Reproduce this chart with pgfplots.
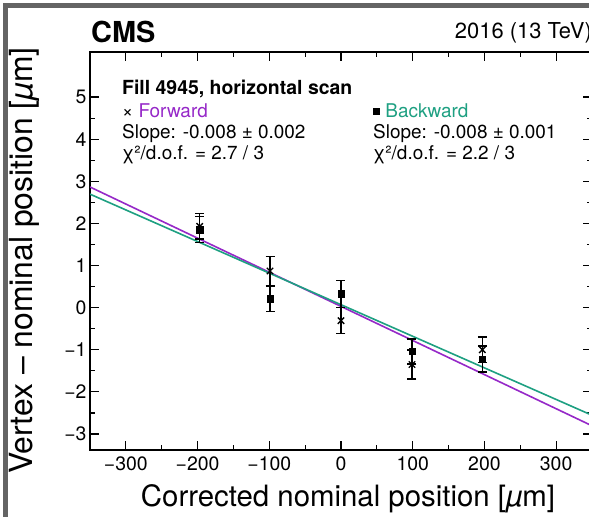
\documentclass[border=0pt]{standalone}
\usepackage{pgfplots}
\pgfplotsset{compat=1.18}
\usepackage{fontspec}
\setmainfont{TeX Gyre Heros}
\definecolor{fwd}{RGB}{150,40,200}
\definecolor{bwd}{RGB}{30,160,130}
\definecolor{framegray}{RGB}{100,100,100}
\begin{document}
\begin{tikzpicture}
\fill[white] (0bp,0bp) rectangle (589bp,517bp);
\begin{axis}[
  at={(90bp,67bp)}, anchor=south west, scale only axis, width=502bp, height=398bp,
  xmin=-350, xmax=350, ymin=-3.38, ymax=6.07,
  xtick={-300,-200,...,300},
  xticklabels={−300,−200,−100,0,100,200,300},
  ytick={-3,-2,...,5},
  yticklabels={−3,−2,−1,0,1,2,3,4,5},
  minor x tick num=1, minor y tick num=1,
  tick align=inside, tick pos=both,
  major tick length=9bp, minor tick length=5bp,
  axis line style={line width=1.4bp},
  every tick/.style={black, line width=1.2bp},
  tick label style={font=\fontsize{19.5}{19.5}\selectfont},
  xticklabel style={yshift=-3bp},
  xlabel={Corrected nominal position [{\itshape µ}m]},
  ylabel={Vertex – nominal position [{\itshape µ}m]},
  xlabel style={font=\fontsize{29.5}{29.5}\selectfont, at={(axis description cs:0.514,-0.143)}, anchor=base},
  ylabel style={font=\fontsize{32}{32}\selectfont, at={(axis description cs:-0.1155,0.476)}, anchor=base},
  clip=true,
]
\addplot[fwd, line width=1.6bp, no marks] coordinates {(-350,2.865) (350,-2.805)};
\addplot[bwd, line width=1.6bp, no marks] coordinates {(-350,2.695) (350,-2.555)};
\addplot[only marks, black, mark=x, mark size=4.5bp, mark options={line width=1.4bp},
  error bars/.cd, y dir=both, y explicit,
  error bar style={line width=1.4bp, black},
  error mark options={rotate=90, mark size=4.5bp, line width=1.4bp, black}]
  table[x=x, y=y, y error=e] {
x y e
-197 1.93 0.30
-99 0.87 0.34
0 -0.31 0.31
99 -1.35 0.34
197 -1.00 0.30
};
\addplot[only marks, black, mark=square*, mark size=3.2bp,
  error bars/.cd, y dir=both, y explicit,
  error bar style={line width=1.4bp, black},
  error mark options={rotate=90, mark size=4.5bp, line width=1.4bp, black}]
  table[x=x, y=y, y error=e] {
x y e
-197 1.85 0.31
-99 0.21 0.30
0 0.33 0.32
99 -1.04 0.30
197 -1.22 0.31
};
\end{axis}
\fill[framegray] (3bp,0bp) rectangle (8bp,514bp);
\fill[framegray] (3bp,509bp) rectangle (589bp,514bp);
\node[anchor=base west, inner sep=0, font=\bfseries\fontsize{29}{29}\selectfont] at (91bp,474bp) {CMS};
\node[anchor=base east, inner sep=0, font=\fontsize{22}{22}\selectfont] at (592bp,478bp) {2016 (13 TeV)};
\node[anchor=base west, inner sep=0, font=\bfseries\fontsize{19.5}{19.5}\selectfont] at (122bp,422bp) {Fill 4945, horizontal scan};
\node[anchor=base west, inner sep=0, font=\fontsize{19}{19}\selectfont] at (122bp,399bp) {× \textcolor{fwd}{Forward}};
\node[anchor=base west, inner sep=0, font=\fontsize{19}{19}\selectfont] at (122bp,378bp) {Slope: -0.008 ± 0.002};
\node[anchor=base west, inner sep=0, font=\fontsize{19}{19}\selectfont] at (122bp,357bp) {χ²/d.o.f. = 2.7 / 3};
\node[anchor=base west, inner sep=0, font=\fontsize{19}{19}\selectfont] at (373bp,399bp) {\raisebox{3bp}{\rule{7bp}{7bp}} \textcolor{bwd}{Backward}};
\node[anchor=base west, inner sep=0, font=\fontsize{19}{19}\selectfont] at (373bp,378bp) {Slope: -0.008 ± 0.001};
\node[anchor=base west, inner sep=0, font=\fontsize{19}{19}\selectfont] at (373bp,357bp) {χ²/d.o.f. = 2.2 / 3};
\pgfresetboundingbox
\path[use as bounding box] (0bp,0bp) rectangle (589bp,517bp);
\end{tikzpicture}
\end{document}
